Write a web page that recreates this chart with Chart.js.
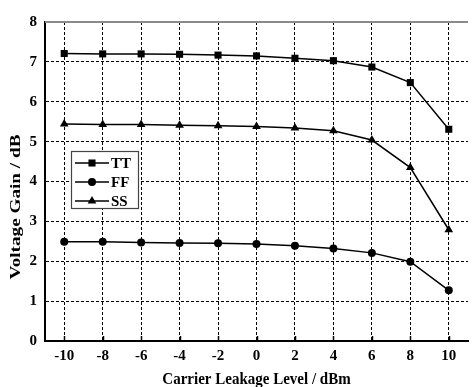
<!DOCTYPE html>
<html>
<head>
<meta charset="utf-8">
<script src="https://cdn.jsdelivr.net/npm/chart.js@4/dist/chart.umd.min.js"></script>
<style>
  html,body{margin:0;padding:0;background:#fff}
  #wrap{width:473px;height:387px;position:relative}
</style>
</head>
<body>
<div id="wrap"><canvas id="c"></canvas></div>
<script>
const levels = [-10, -8, -6, -4, -2, 0, 2, 4, 6, 8, 10]
const tt = [7.21, 7.20, 7.20, 7.19, 7.17, 7.15, 7.09, 7.03, 6.87, 6.48, 5.31]
const ff = [2.49, 2.49, 2.47, 2.46, 2.45, 2.43, 2.39, 2.32, 2.21, 1.99, 1.27]
const ss = [5.44, 5.43, 5.43, 5.41, 5.40, 5.38, 5.34, 5.27, 5.04, 4.35, 2.79]
const yTicks = [0, 1, 2, 3, 4, 5, 6, 7, 8]
const xTitle = 'Carrier Leakage Level / dBm'
const yTitle = 'Voltage Gain / dB'

const FONT = '"Liberation Serif", "Times New Roman", serif'

function series(label, vals, style, r){
  return {
    label, data: levels.map((x,i)=>({x, y: vals[i]})),
    borderColor:'#000', backgroundColor:'#000', borderWidth:1.5,
    pointStyle:style, pointRadius:r, pointHoverRadius:r, pointBorderWidth:0,
    tension:0
  }
}

// draws the boxed legend, inside ticks, top frame line and axis titles
const extras = {
  id:'extras',
  afterDraw(chart){
    const {ctx, chartArea:a, scales:{x}} = chart
    ctx.save()
    // top frame (grey)
    ctx.strokeStyle = '#8a8a8a'; ctx.lineWidth = 2
    ctx.beginPath(); ctx.moveTo(a.left, a.top); ctx.lineTo(a.right, a.top); ctx.stroke()
    // inside ticks on x axis
    ctx.strokeStyle = '#000'; ctx.lineWidth = 1.5
    levels.forEach(v=>{
      const px = Math.round(x.getPixelForValue(v)) + 0.5
      ctx.beginPath(); ctx.moveTo(px, a.bottom); ctx.lineTo(px, a.bottom - 5); ctx.stroke()
    })
    // legend
    const bx = 71.5, by = 151.5, bw = 67, bh = 57
    ctx.fillStyle = '#fff'; ctx.fillRect(bx, by, bw, bh)
    ctx.strokeStyle = '#444'; ctx.lineWidth = 1.2; ctx.strokeRect(bx, by, bw, bh)
    const rows = [163, 182, 201]
    chart.data.datasets.forEach((ds, i)=>{
      const y = rows[i]
      ctx.strokeStyle = '#000'; ctx.lineWidth = 1.5
      ctx.beginPath(); ctx.moveTo(75, y); ctx.lineTo(109, y); ctx.stroke()
      ctx.fillStyle = '#000'
      Chart.helpers.drawPoint(ctx, {pointStyle: ds.pointStyle, radius: ds.pointRadius, rotation:0, borderWidth:0}, 92, y)
      ctx.fillStyle = '#000'
      ctx.font = 'bold 15px ' + FONT
      ctx.textAlign = 'left'; ctx.textBaseline = 'middle'
      ctx.fillText(ds.label, 111, y + 1)
    })
    // axis titles
    ctx.fillStyle = '#000'
    ctx.font = 'bold 15px ' + FONT
    ctx.textAlign = 'center'; ctx.textBaseline = 'middle'
    ctx.save()
    ctx.translate((a.left + a.right)/2, 380); ctx.scale(1, 1.12)
    ctx.fillText(xTitle, 0, 0)
    ctx.restore()
    ctx.translate(16, 207); ctx.rotate(-Math.PI/2); ctx.scale(1.28, 1)
    ctx.fillText(yTitle, 0, 0)
    ctx.restore()
  }
}

new Chart(document.getElementById('c'), {
  type:'line',
  data:{ datasets:[
    series('TT', tt, 'rect', 5),
    series('FF', ff, 'circle', 4),
    series('SS', ss, 'triangle', 5)
  ]},
  options:{
    responsive:true, maintainAspectRatio:false, animation:false,
    layout:{padding:{top:22, right:0, left:0, bottom:0}},
    plugins:{legend:{display:false}, tooltip:{enabled:false}},
    scales:{
      x:{
        type:'linear', min:-11, max:11,
        afterBuildTicks(s){ s.ticks = levels.map(v=>({value:v})) },
        afterFit(s){ s.height = 46 },
        grid:{color:'#000', lineWidth:1, drawTicks:false},
        border:{display:true, color:'#000', width:2, dash:[3,2]},
        ticks:{color:'#000', padding:6, font:{family:FONT, size:15, weight:'bold'}, maxRotation:0}
      },
      y:{
        min:0, max:8,
        afterBuildTicks(s){ s.ticks = yTicks.map(v=>({value:v})) },
        afterFit(s){ s.width = 45 },
        grid:{color:c => (c.tick && (c.tick.value===0 || c.tick.value===8)) ? 'rgba(0,0,0,0)' : '#000', lineWidth:1, drawTicks:false},
        border:{display:true, color:'#000', width:2, dash:[3,2]},
        ticks:{color:'#000', padding:8, font:{family:FONT, size:15, weight:'bold'}}
      }
    }
  },
  plugins:[extras]
})
</script>
</body>
</html>
